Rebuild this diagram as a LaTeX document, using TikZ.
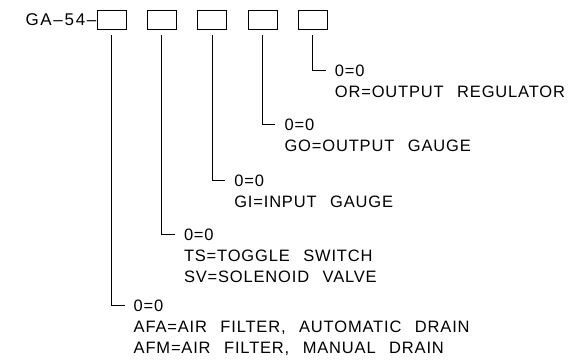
\documentclass[tikz,border=0pt]{standalone}
\usepackage{fontspec}
\setmainfont{Liberation Sans}[LetterSpace=5, WordSpace=2.5]
\usetikzlibrary{positioning, calc}

\begin{document}
\begin{tikzpicture}[x=1pt, y=1pt,
  slot/.style={rectangle, draw, line width=0.8pt, minimum width=29pt, minimum height=19pt, inner sep=0pt},
  code/.style={inner sep=0pt, font=\fontsize{17}{21.3}\selectfont\addfontfeatures{LetterSpace=10}},
  lbl/.style={anchor=north west, inner sep=0pt, align=left, font=\fontsize{16.5}{21.3}\selectfont},
  lead/.style={line width=0.8pt}
]
\useasboundingbox (0,0) rectangle (581,-359);
\node[slot] (b1) at (111.5,-19.5) {};
\node[slot, right=20.5pt of b1] (b2) {};
\node[slot, right=20.5pt of b2] (b3) {};
\node[slot, right=20.5pt of b3] (b4) {};
\node[slot, right=20.5pt of b4] (b5) {};
\node[code, left=0pt of b1] (ga) {GA--54--};
% option codes
\node[lbl] (l5) at ($(b5.south)+(22,-35)$) {0=0\\OR=OUTPUT REGULATOR};
\node[lbl] (l4) at ($(b4.south)+(22,-89)$) {0=0\\GO=OUTPUT GAUGE};
\node[lbl] (l3) at ($(b3.south)+(22,-145)$) {0=0\\GI=INPUT GAUGE};
\node[lbl] (l2) at ($(b2.south)+(22,-199)$) {0=0\\TS=TOGGLE SWITCH\\SV=SOLENOID VALVE};
\node[lbl] (l1) at ($(b1.south)+(22,-270)$) {0=0\\AFA=AIR FILTER, AUTOMATIC DRAIN\\AFM=AIR FILTER, MANUAL DRAIN};
\draw[lead] ([yshift=-6pt]b5.south) |- ([xshift=-9pt,yshift=-6pt]l5.north west);
\draw[lead] ([yshift=-6pt]b4.south) |- ([xshift=-9pt,yshift=-6pt]l4.north west);
\draw[lead] ([yshift=-6pt]b3.south) |- ([xshift=-9pt,yshift=-6pt]l3.north west);
\draw[lead] ([yshift=-6pt]b2.south) |- ([xshift=-9pt,yshift=-6pt]l2.north west);
\draw[lead] ([yshift=-6pt]b1.south) |- ([xshift=-9pt,yshift=-6pt]l1.north west);
\end{tikzpicture}
\end{document}
